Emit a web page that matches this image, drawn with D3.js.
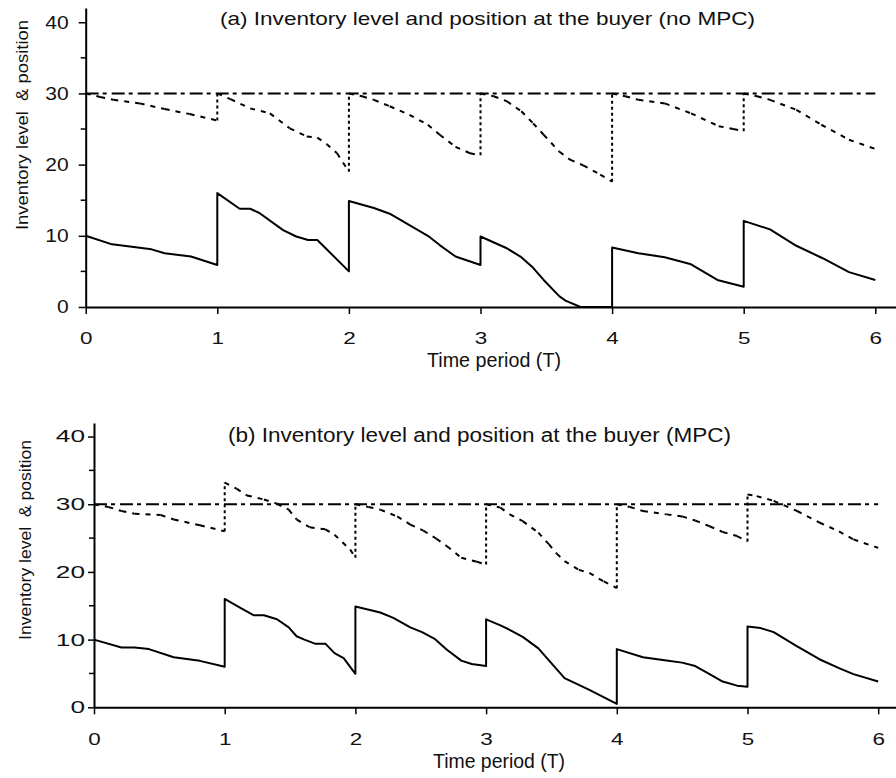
<!DOCTYPE html>
<html>
<head>
<meta charset="utf-8">
<script src="https://cdn.jsdelivr.net/npm/d3@7"></script>
<style>
  html, body { margin: 0; padding: 0; background: #fff; }
  svg { display: block; }
  text { font-family: "Liberation Sans", Arial, sans-serif; fill: #111; }
</style>
</head>
<body>
<svg id="chart" width="896" height="778"></svg>
<script>
// Inventory level (solid) over time, without MPC: [time period, units]
const levelNoMPC = [
  [0,10],[0.2,8.8],[0.5,8.1],[0.6,7.55],[0.8,7.1],[1,5.9],
  [1,16],[1.17,13.8],[1.25,13.8],[1.32,13.2],[1.5,10.8],[1.6,9.9],[1.69,9.4],[1.76,9.4],[1.81,8.5],[2,5.0],
  [2,14.9],[2.19,13.9],[2.31,13.1],[2.46,11.5],[2.6,10.0],[2.69,8.7],[2.81,7.1],[3,5.9],
  [3,9.9],[3.2,8.25],[3.31,7.0],[3.4,5.5],[3.48,3.8],[3.6,1.5],[3.65,0.85],[3.76,0],[4,0],
  [4,8.35],[4.2,7.55],[4.4,7.0],[4.6,6.0],[4.8,3.8],[5,2.85],
  [5,12.1],[5.2,10.9],[5.4,8.6],[5.6,6.85],[5.8,4.9],[6,3.8]
];
// Inventory position (dashed) without MPC
const positionNoMPC = [
  [0,30],[0.11,29.5],[0.21,29.1],[0.41,28.6],[0.6,27.8],[0.79,27.1],[1,26.2],
  [1,30],[1.1,29.2],[1.25,27.9],[1.4,27.2],[1.55,25.1],[1.68,23.95],[1.76,23.8],[1.83,22.9],[1.91,21.6],[2,19.0],
  [2,30],[2.1,29.6],[2.19,29.1],[2.31,28.2],[2.46,27.0],[2.6,25.6],[2.69,24.2],[2.81,22.5],[2.92,21.6],[3,21.3],
  [3,30],[3.1,29.6],[3.2,28.9],[3.31,27.5],[3.4,25.8],[3.48,24.2],[3.6,21.8],[3.68,20.7],[3.78,19.9],[3.91,18.6],[4,17.6],
  [4,30],[4.1,29.6],[4.2,29.1],[4.4,28.6],[4.6,27.2],[4.81,25.4],[4.92,25.0],[5,24.7],
  [5,30],[5.1,29.6],[5.2,29.1],[5.4,27.7],[5.59,25.6],[5.8,23.5],[6,22.2]
];
// Inventory level with MPC
const levelMPC = [
  [0,10],[0.21,8.83],[0.31,8.83],[0.42,8.6],[0.61,7.4],[0.81,6.86],[1,6.0],
  [1,16.0],[1.12,14.7],[1.22,13.6],[1.3,13.6],[1.4,13.0],[1.49,11.8],[1.55,10.5],[1.61,10.0],[1.69,9.4],[1.77,9.4],[1.84,8.0],[1.91,7.26],[2,4.95],
  [2,14.9],[2.19,14.0],[2.29,13.2],[2.42,11.8],[2.51,11.1],[2.61,10.07],[2.7,8.5],[2.81,6.9],[2.89,6.4],[3,6.1],
  [3,13.0],[3.11,12.1],[3.18,11.45],[3.28,10.4],[3.4,8.7],[3.6,4.3],[3.79,2.56],[4,0.5],
  [4,8.6],[4.2,7.4],[4.38,6.9],[4.5,6.6],[4.6,6.1],[4.71,4.9],[4.81,3.8],[4.92,3.2],[5,3.05],
  [5,11.95],[5.1,11.7],[5.2,11.1],[5.38,9.0],[5.55,7.1],[5.7,5.8],[5.81,4.9],[6,3.8]
];
// Inventory position with MPC
const positionMPC = [
  [0,30],[0.11,29.6],[0.21,29.0],[0.31,28.6],[0.51,28.4],[0.61,27.75],[0.81,26.9],[1,26.0],
  [1,33.2],[1.09,32.3],[1.17,31.3],[1.3,30.7],[1.4,30.07],[1.49,29.2],[1.55,27.75],[1.65,26.6],[1.77,26.3],[1.84,25.5],[1.96,23.3],[2,22.1],
  [2,30],[2.1,29.6],[2.19,29.2],[2.32,28.2],[2.42,27.0],[2.52,26.1],[2.62,24.9],[2.7,23.8],[2.81,22.1],[2.93,21.5],[3,21.1],
  [3,30],[3.11,29.5],[3.18,28.5],[3.28,27.5],[3.4,25.8],[3.48,24.1],[3.54,22.7],[3.6,21.6],[3.71,20.3],[3.79,19.85],[3.9,18.6],[4,17.6],
  [4,30],[4.1,29.6],[4.2,29.0],[4.38,28.5],[4.5,28.2],[4.6,27.6],[4.71,26.75],[4.81,25.9],[4.92,25.3],[5,24.5],
  [5,31.45],[5.07,31.2],[5.2,30.5],[5.38,29.0],[5.55,27.3],[5.7,26.0],[5.81,24.8],[6,23.55]
];
// Order-up-to level, constant over the horizon
const orderUpTo = [[0,30],[6,30]];

const xTicks = [0,1,2,3,4,5,6];
const yTicks = [0,10,20,30,40];
const yMinorTicks = [5,15,25,35];

const titles = [
  "(a) Inventory level and position at the buyer (no MPC)",
  "(b) Inventory level and position at the buyer (MPC)"
];
const yLabel = "Inventory level  & position";
const xLabel = "Time period (T)";

const svg = d3.select("#chart");

function drawPanel(p) {
  const x = d3.scaleLinear().domain([0, p.xMax]).range([p.left, 896]);
  const y = d3.scaleLinear().domain([0, 42]).range([p.bottom, p.top]);
  const g = svg.append("g");

  // y axis with minor ticks
  const yAxis = g.append("g").attr("transform", `translate(${p.left},0)`)
    .call(d3.axisLeft(y).tickValues(yTicks).tickFormat(d3.format("d"))
      .tickSize(p.yTick).tickPadding(p.yPad).tickSizeOuter(0));
  yAxis.selectAll("text").attr("font-family", null)
    .style("font-size", p.yTickFont + "px")
    .attr("textLength", d => String(d).length * p.yCharW)
    .attr("lengthAdjust", "spacingAndGlyphs");
  g.append("g").attr("transform", `translate(${p.left},0)`)
    .selectAll("line").data(yMinorTicks).join("line")
    .attr("x1", -5).attr("x2", 0)
    .attr("y1", d => y(d)).attr("y2", d => y(d))
    .attr("stroke", "#000").attr("stroke-width", 1.5);

  // x axis
  const xAxis = g.append("g").attr("transform", `translate(0,${p.bottom})`)
    .call(d3.axisBottom(x).tickValues(xTicks).tickFormat(d3.format("d"))
      .tickSize(7).tickPadding(p.xPad).tickSizeOuter(0));
  xAxis.selectAll("text").attr("font-family", null)
    .style("font-size", p.xTickFont + "px")
    .attr("textLength", 12.5).attr("lengthAdjust", "spacingAndGlyphs");
  [yAxis, xAxis].forEach(a => {
    a.select(".domain").attr("stroke", "#000").attr("stroke-width", 2);
    a.selectAll(".tick line").attr("stroke", "#000").attr("stroke-width", 1.5);
  });

  const line = d3.line().x(d => x(d[0])).y(d => y(d[1]));

  // order-up-to level: dash-dot
  g.append("path").datum(orderUpTo).attr("d", line)
    .attr("fill", "none").attr("stroke", "#000").attr("stroke-width", 2)
    .attr("stroke-dasharray", "13,4,4,5");

  // inventory position: dashed slopes, dotted replenishment jumps
  const segs = d3.pairs(p.position);
  g.append("g").selectAll("line").data(segs).join("line")
    .attr("x1", d => x(d[0][0])).attr("y1", d => y(d[0][1]))
    .attr("x2", d => x(d[1][0])).attr("y2", d => y(d[1][1]))
    .attr("stroke", "#000").attr("stroke-width", 2)
    .attr("stroke-dasharray", d => d[0][0] === d[1][0] ? "3,3" : "5,6");

  // inventory level: solid
  g.append("path").datum(p.level).attr("d", line)
    .attr("fill", "none").attr("stroke", "#000").attr("stroke-width", 2)
    .attr("stroke-linejoin", "round");

  // titles and labels
  g.append("text").attr("x", p.title.x).attr("y", p.title.y)
    .style("font-size", p.title.size + "px")
    .attr("textLength", p.title.len).attr("lengthAdjust", "spacingAndGlyphs")
    .text(p.title.text);
  g.append("text").attr("transform", `translate(${p.yLab.x},${p.yLab.y}) rotate(-90)`)
    .style("font-size", p.yLab.size + "px").style("white-space", "pre")
    .attr("textLength", p.yLab.len).attr("lengthAdjust", "spacingAndGlyphs")
    .text(yLabel);
  g.append("text").attr("x", p.xLab.x).attr("y", p.xLab.y)
    .style("font-size", p.xLab.size + "px")
    .attr("textLength", p.xLab.len).attr("lengthAdjust", "spacingAndGlyphs")
    .text(xLabel);
}

drawPanel({
  left: 85.7, bottom: 307, top: 8, xMax: (896 - 85.7) / 131.6,
  yTick: 7, yPad: 10, yTickFont: 18.6, yCharW: 11.7, xPad: 18, xTickFont: 16.3,
  level: levelNoMPC, position: positionNoMPC,
  title: { text: titles[0], x: 220, y: 25, size: 18.6, len: 535 },
  yLab: { x: 28.3, y: 230, size: 16, len: 210 },
  xLab: { x: 427, y: 367, size: 20, len: 134 }
});
drawPanel({
  left: 94, bottom: 707.3, top: 423, xMax: (896 - 94) / 130.7,
  yTick: 6, yPad: 3, yTickFont: 16.8, yCharW: 14.6, xPad: 19, xTickFont: 16.8,
  level: levelMPC, position: positionMPC,
  title: { text: titles[1], x: 228, y: 441.5, size: 20, len: 503 },
  yLab: { x: 31, y: 640, size: 16, len: 200 },
  xLab: { x: 433, y: 768, size: 20, len: 132 }
});
</script>
</body>
</html>
